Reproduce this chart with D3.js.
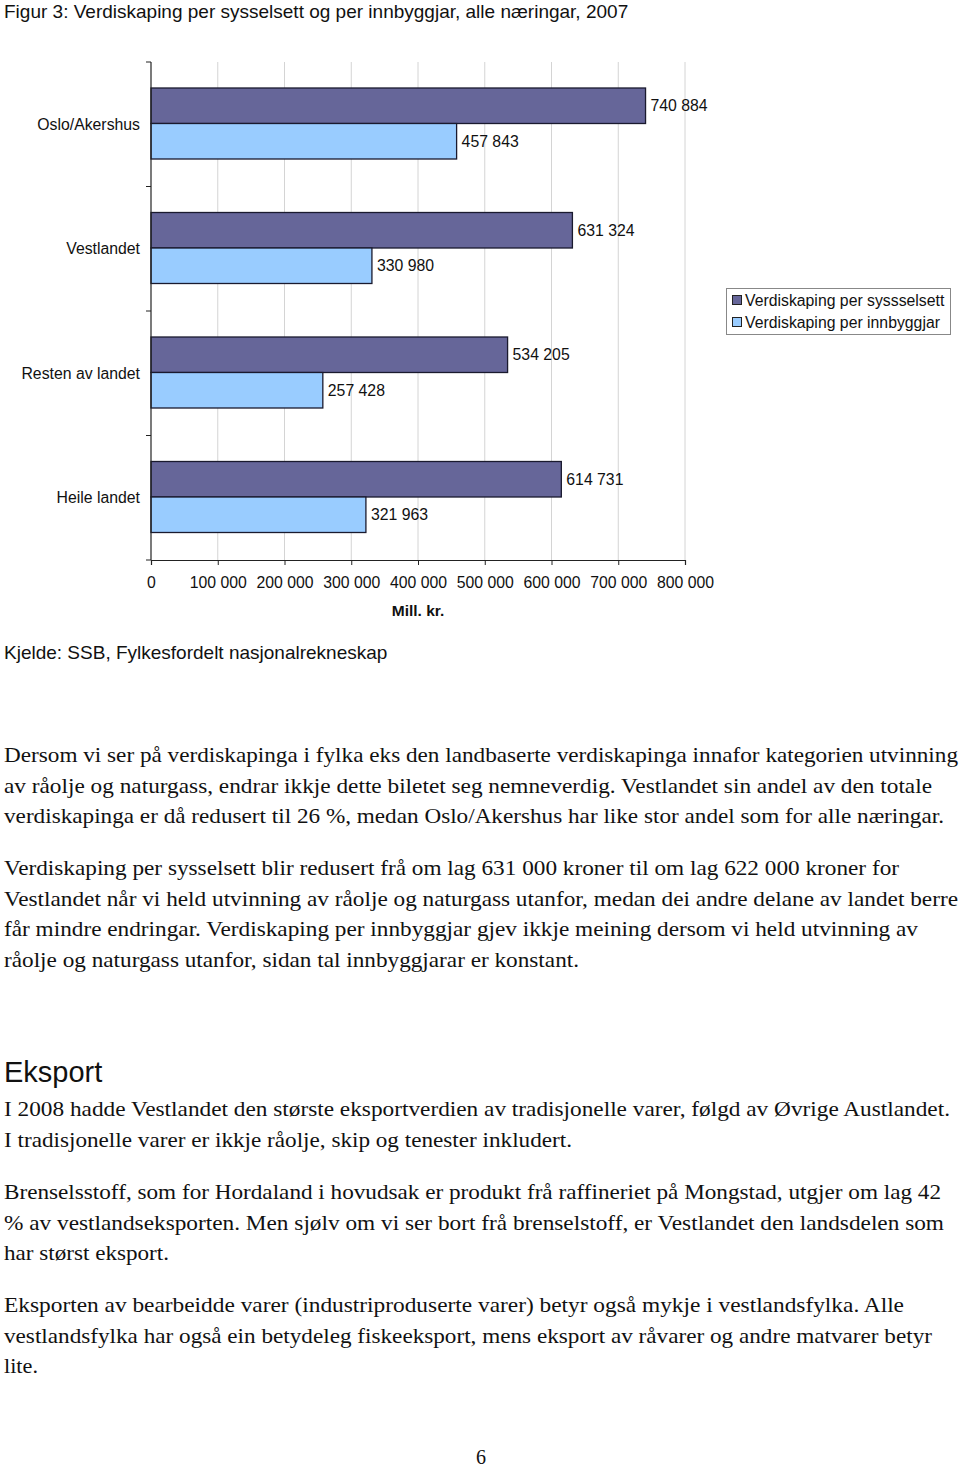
<!DOCTYPE html>
<html><head><meta charset="utf-8">
<script src="https://cdn.jsdelivr.net/npm/d3@7"></script>
<style>body{margin:0;background:#fff}svg{display:block}</style>
</head><body>
<script>
const categories = ["Oslo/Akershus", "Vestlandet", "Resten av landet", "Heile landet"];
const seriesNames = ["Verdiskaping per syssselsett", "Verdiskaping per innbyggjar"];
const perSysselsett = [740884, 631324, 534205, 614731];
const perInnbyggjar = [457843, 330980, 257428, 321963];
const tickValues = [0, 100000, 200000, 300000, 400000, 500000, 600000, 700000, 800000];
const colors = ["#666699", "#99ccff"];

const para1 = [
  ["Dersom vi ser på verdiskapinga i fylka eks den landbaserte verdiskapinga innafor kategorien utvinning", 954],
  ["av råolje og naturgass, endrar ikkje dette biletet seg nemneverdig. Vestlandet sin andel av den totale", 928],
  ["verdiskapinga er då redusert til 26 %, medan Oslo/Akershus har like stor andel som for alle næringar.", 940]
];
const para2 = [
  ["Verdiskaping per sysselsett blir redusert frå om lag 631 000 kroner til om lag 622 000 kroner for", 895],
  ["Vestlandet når vi held utvinning av råolje og naturgass utanfor, medan dei andre delane av landet berre", 954],
  ["får mindre endringar. Verdiskaping per innbyggjar gjev ikkje meining dersom vi held utvinning av", 914],
  ["råolje og naturgass utanfor, sidan tal innbyggjarar er konstant.", 575]
];
const para3 = [
  ["I 2008 hadde Vestlandet den største eksportverdien av tradisjonelle varer, følgd av Øvrige Austlandet.", 946],
  ["I tradisjonelle varer er ikkje råolje, skip og tenester inkludert.", 568]
];
const para4 = [
  ["Brenselsstoff, som for Hordaland i hovudsak er produkt frå raffineriet på Mongstad, utgjer om lag 42", 937],
  ["% av vestlandseksporten. Men sjølv om vi ser bort frå brenselstoff, er Vestlandet den landsdelen som", 940],
  ["har størst eksport.", 165]
];
const para5 = [
  ["Eksporten av bearbeidde varer (industriproduserte varer) betyr også mykje i vestlandsfylka.  Alle", 900],
  ["vestlandsfylka har også ein betydeleg fiskeeksport, mens eksport av råvarer og andre matvarer betyr", 928],
  ["lite.", 34]
];

const W = 960, H = 1470;
const svg = d3.select("body").append("svg").attr("width", W).attr("height", H);
const sans = "'Liberation Sans', Arial, Helvetica, sans-serif";
const serif = "'Liberation Serif', 'Times New Roman', serif";
const fs = 15.8;

// Title
svg.append("text").attr("x", 4).attr("y", 18).attr("font-family", sans).attr("font-size", 19)
  .attr("fill", "#111").text("Figur 3: Verdiskaping per sysselsett og per innbyggjar, alle næringar, 2007");

const x = d3.scaleLinear().domain([0, 800000]).range([151, 685]);
const y0 = d3.scaleBand().domain(categories).range([62, 560]).padding(0);
const y1 = d3.scaleBand().domain([0, 1]).range([26, 97]).padding(0);

// gridlines
svg.append("g").selectAll("line").data(tickValues.slice(1)).join("line")
  .attr("x1", d => x(d)).attr("x2", d => x(d)).attr("y1", 62).attr("y2", 560)
  .attr("stroke", "#d4d4d4").attr("stroke-width", 1);

// bars
const data = categories.map((c, i) => ({c, v: [perSysselsett[i], perInnbyggjar[i]]}));
const g = svg.append("g");
data.forEach(d => {
  d.v.forEach((v, s) => {
    const yy = y0(d.c) + y1(s);
    g.append("rect").attr("x", x(0)).attr("y", yy).attr("width", x(v) - x(0)).attr("height", y1.bandwidth())
      .attr("fill", colors[s]).attr("stroke", "#1a1a2e").attr("stroke-width", 1.3);
    g.append("text").attr("x", x(v) + 5).attr("y", yy + y1.bandwidth() / 2 + 5.5)
      .attr("font-family", sans).attr("font-size", fs).attr("fill", "#111")
      .text(d3.format(",")(v).replace(/,/g, " "));
  });
});

// left axis
const yAx = svg.append("g");
yAx.append("line").attr("x1", 151).attr("x2", 151).attr("y1", 62).attr("y2", 560).attr("stroke", "#222").attr("stroke-width", 1.2);
const bounds = categories.map(c => y0(c)).concat([560]);
yAx.selectAll("line.t").data(bounds).join("line").attr("class", "t")
  .attr("x1", 146).attr("x2", 151).attr("y1", d => d).attr("y2", d => d).attr("stroke", "#222");
yAx.selectAll("text").data(categories).join("text")
  .attr("x", 140).attr("y", d => y0(d) + y0.bandwidth() / 2 + 5.5).attr("text-anchor", "end")
  .attr("font-family", sans).attr("font-size", fs).attr("fill", "#111").text(d => d);

// bottom axis
const xAxis = d3.axisBottom(x).tickValues(tickValues).tickSize(5).tickPadding(12)
  .tickFormat(d => d3.format(",")(d).replace(/,/g, " "));
const xg = svg.append("g").attr("transform", "translate(0,560)").call(xAxis);
xg.select(".domain").attr("stroke", "#222").attr("stroke-width", 1.2);
xg.selectAll(".tick line").attr("stroke", "#222");
xg.selectAll("text").attr("font-family", sans).attr("font-size", fs).attr("fill", "#111");
svg.append("text").attr("x", 418).attr("y", 616).attr("text-anchor", "middle").attr("font-family", sans)
  .attr("font-size", 15.5).attr("font-weight", "bold").attr("fill", "#111").text("Mill. kr.");

// legend
const lg = svg.append("g");
lg.append("rect").attr("x", 726.5).attr("y", 288.5).attr("width", 224).attr("height", 46)
  .attr("fill", "#fff").attr("stroke", "#888");
seriesNames.forEach((n, i) => {
  lg.append("rect").attr("x", 732.5).attr("y", 295.5 + i * 22).attr("width", 9).attr("height", 9)
    .attr("fill", colors[i]).attr("stroke", "#222");
  lg.append("text").attr("x", 745).attr("y", 306 + i * 22).attr("font-family", sans).attr("font-size", 15.8)
    .attr("fill", "#111").text(n);
});

// source
svg.append("text").attr("x", 4).attr("y", 659).attr("font-family", sans).attr("font-size", 19)
  .attr("fill", "#111").text("Kjelde: SSB, Fylkesfordelt nasjonalrekneskap");

function para(lines, y) {
  lines.forEach(([t, w], i) => {
    svg.append("text").attr("x", 4).attr("y", y + i * 30.7).attr("font-family", serif).attr("font-size", 21)
      .attr("fill", "#111").attr("textLength", w).attr("lengthAdjust", "spacingAndGlyphs").text(t);
  });
}
para(para1, 762);
para(para2, 875);
svg.append("text").attr("x", 4).attr("y", 1082).attr("font-family", sans).attr("font-size", 29)
  .attr("fill", "#111").text("Eksport");
para(para3, 1116);
para(para4, 1199);
para(para5, 1312);

svg.append("text").attr("x", 481).attr("y", 1464).attr("text-anchor", "middle").attr("font-family", serif)
  .attr("font-size", 20).attr("fill", "#111").text("6");
</script>
</body></html>
